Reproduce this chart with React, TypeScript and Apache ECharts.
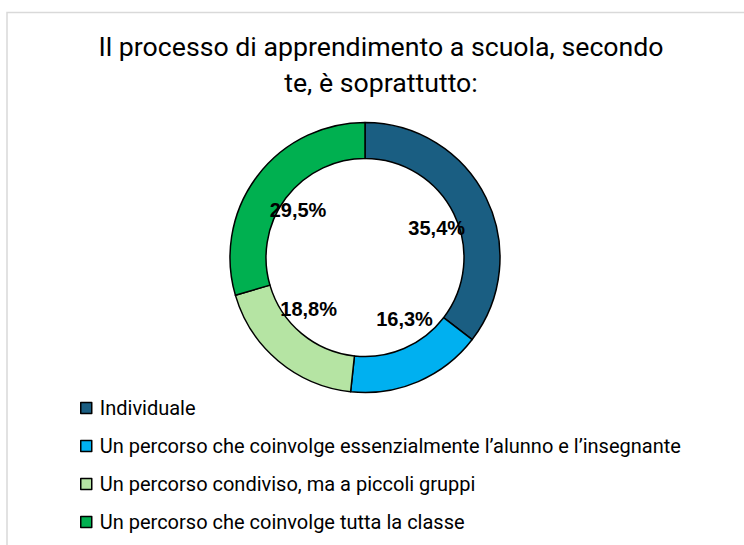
import React, { useEffect, useRef } from "react";
import * as echarts from "echarts";

const titleText = "Il processo di apprendimento a scuola, secondo\nte, è soprattutto:";
const categories = [
  "Individuale",
  "Un percorso che coinvolge essenzialmente l’alunno e l’insegnante",
  "Un percorso condiviso, ma a piccoli gruppi",
  "Un percorso che coinvolge tutta la classe",
];
const values = [35.4, 16.3, 18.8, 29.5];
const colors = ["#1A5E82", "#00B0F0", "#B5E4A3", "#00B050"];
const labelOffsets = [[0, 6], [8, -12], [-5, -10], [-3, 1]];

const FONT = "Roboto, 'Noto Sans', sans-serif";

export default function App() {
  const ref = useRef<HTMLDivElement>(null);
  useEffect(() => {
    if (!ref.current) return;
    const chart = echarts.init(ref.current, undefined, { renderer: "svg" });
    const data = categories.map((name, i) => ({
      name,
      value: values[i],
      itemStyle: { color: colors[i] },
    }));
    chart.setOption({
      animation: false,
      backgroundColor: "#ffffff",
      title: {
        text: titleText,
        left: 376,
        top: 24,
        textAlign: "center",
        textStyle: {
          fontFamily: FONT,
          fontSize: 26.7,
          fontWeight: "normal",
          color: "#000000",
          lineHeight: 36,
          align: "center",
        },
      },
      legend: {
        orient: "vertical",
        left: 80,
        top: 398,
        height: 160,
        padding: 0,
        itemGap: 18,
        itemWidth: 11,
        itemHeight: 11,
        icon: "rect",
        data: categories,
        itemStyle: { borderColor: "#000000", borderWidth: 1.5 },
        textStyle: {
          fontFamily: FONT,
          fontSize: 20,
          lineHeight: 18,
          color: "#000000",
          padding: [0, 0, 0, 3],
        },
        selectedMode: false,
      },
      graphic: [
        {
          type: "rect",
          shape: { x: 7, y: 12.5, width: 800, height: 600 },
          style: { fill: "none", stroke: "#d9d9d9", lineWidth: 1.5 },
          silent: true,
          z: -10,
        },
      ],
      series: [
        {
          type: "pie",
          center: [365, 257.5],
          radius: [99, 135],
          startAngle: 90,
          clockwise: true,
          silent: true,
          itemStyle: { borderColor: "#000000", borderWidth: 1.5 },
          label: { show: false },
          labelLine: { show: false },
          data,
        },
        {
          type: "pie",
          center: [365, 257.5],
          radius: [0, 154],
          startAngle: 90,
          clockwise: true,
          silent: true,
          z: 5,
          itemStyle: { color: "rgba(0,0,0,0)", borderWidth: 0 },
          emphasis: { disabled: true },
          label: {
            show: true,
            position: "inside",
            formatter: (p: any) => p.value.toFixed(1).replace(".", ",") + "%",
            fontFamily: "'Liberation Sans', Arial, sans-serif",
            fontWeight: "bold",
            fontSize: 20,
            color: "#000000",
          },
          labelLine: { show: false },
          data: categories.map((name, i) => ({
            name,
            value: values[i],
            label: { offset: labelOffsets[i] },
          })),
        },
      ],
    });
    return () => chart.dispose();
  }, []);
  return (
    <div
      ref={ref}
      style={{ position: "fixed", left: 0, top: 0, width: 744, height: 545 }}
    />
  );
}
